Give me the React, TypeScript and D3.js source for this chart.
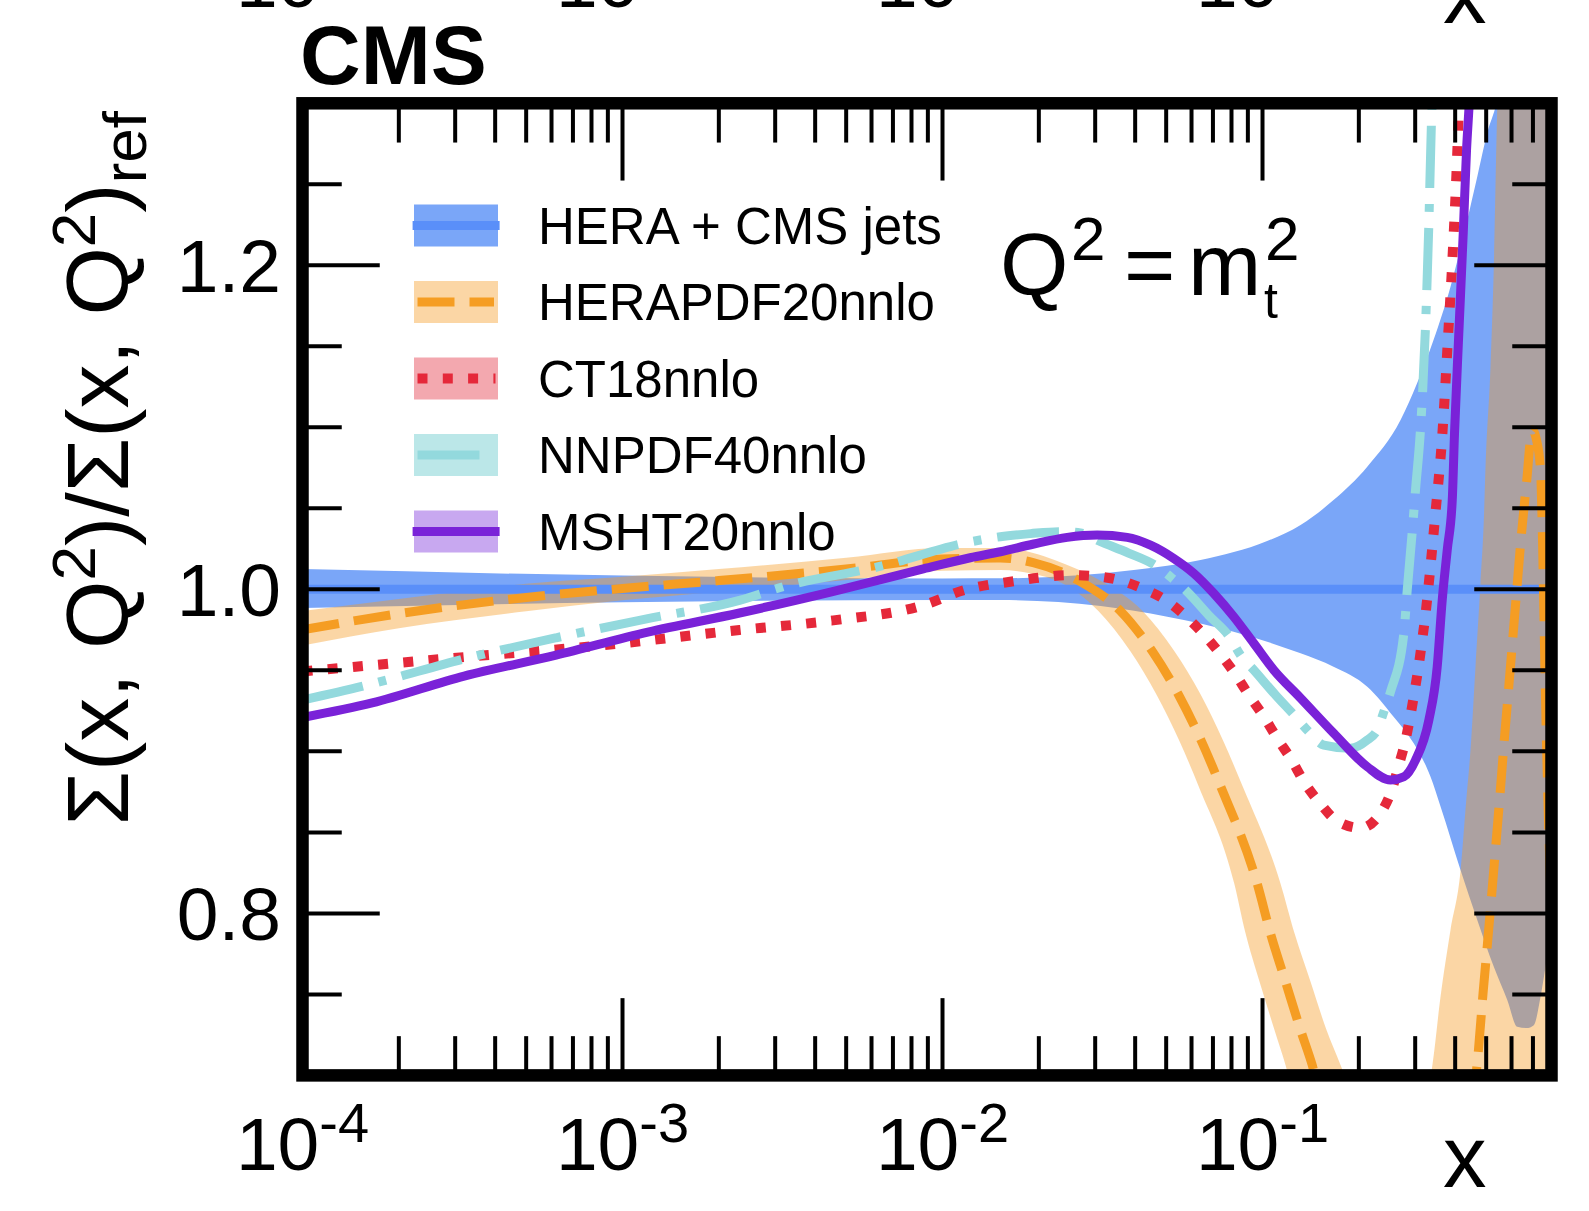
import React from 'react';
import * as d3 from 'd3';

type P = [number, number];

// ---------------- data (x, ratio) ----------------
const heraCmsCentral: P[] = [[1e-4, 1.0], [0.8, 1.0]];
const heraCmsUpper: P[] = [
  [1e-4, 1.0125], [1e-3, 1.0085], [0.01, 1.0067], [0.0152, 1.0068], [0.0396, 1.0119],
  [0.064, 1.0181], [0.1034, 1.0298], [0.1315, 1.0397], [0.1667, 1.0551], [0.2125, 1.0757],
  [0.27, 1.1045], [0.3043, 1.1273], [0.3423, 1.1539], [0.3868, 1.1868], [0.4363, 1.228],
  [0.4689, 1.2547], [0.5037, 1.2817], [0.5413, 1.302], [0.6, 1.36], [0.8, 1.45],
];
const heraCmsLower: P[] = [
  [1e-4, 0.9885], [1e-3, 0.992], [0.01, 0.9934], [0.0152, 0.9934], [0.0312, 0.9897],
  [0.0504, 0.9831], [0.0812, 0.9738], [0.1315, 0.9605], [0.1667, 0.9522], [0.2125, 0.9399],
  [0.2568, 0.9214], [0.2965, 0.9051], [0.335, 0.8843], [0.36, 0.866], [0.4159, 0.8267],
  [0.4689, 0.7959], [0.5282, 0.767], [0.5819, 0.7465], [0.6251, 0.73], [0.6683, 0.7292],
  [0.7043, 0.731], [0.7394, 0.7485], [0.7664, 0.767], [0.8, 0.79],
];

const herapdfCentral: P[] = [
  [1e-4, 0.975], [2e-4, 0.985], [5e-4, 0.995], [1e-3, 1.0005], [2e-3, 1.0054], [5e-3, 1.0125],
  [0.01, 1.0187], [0.0152, 1.0193], [0.0192, 1.0165], [0.0268, 1.0051], [0.036, 0.9866],
  [0.0452, 0.9619], [0.0547, 0.9348], [0.0644, 0.9064], [0.0739, 0.8786], [0.0962, 0.8185],
  [0.1059, 0.7877], [0.118, 0.7578], [0.1315, 0.728], [0.143, 0.7064], [0.1518, 0.688],
  [0.455, 0.688], [0.469, 0.708], [0.4888, 0.7506], [0.5047, 0.7815], [0.5206, 0.8123],
  [0.5366, 0.8432], [0.5527, 0.8741], [0.5696, 0.907], [0.5871, 0.9378], [0.6055, 0.9698],
  [0.6242, 1.0016], [0.6434, 1.0325], [0.6683, 1.0656], [0.6965, 1.0983], [0.7181, 1.0922],
  [0.7394, 1.0736], [0.7499, 1.0304], [0.758, 0.981], [0.7664, 0.932], [0.8, 0.8],
];
const herapdfUpper: P[] = [
  [1e-4, 0.9866], [2e-4, 0.994], [5e-4, 1.0035], [1e-3, 1.0078], [2e-3, 1.0125], [5e-3, 1.0195],
  [0.01, 1.0255], [0.0152, 1.0255], [0.0192, 1.0225], [0.0225, 1.018], [0.0313, 1.0051],
  [0.0422, 0.9866], [0.053, 0.9619], [0.0642, 0.9348], [0.0754, 0.9064], [0.0866, 0.8786],
  [0.1138, 0.8185], [0.1259, 0.7877], [0.1413, 0.7578], [0.1585, 0.728], [0.1753, 0.7064],
  [0.188, 0.691], [0.25, 0.62], [0.339, 0.7053], [0.36, 0.7485], [0.3868, 0.7897],
  [0.4159, 0.8267], [0.4332, 0.8699], [0.4467, 0.9008], [0.463, 0.9522], [0.48, 1.0039],
  [0.4916, 1.0428], [0.4976, 1.0757], [0.5158, 1.1374], [0.5282, 1.1991], [0.5413, 1.2959],
  [0.56, 1.36], [0.8, 1.4],
];
const herapdfLower: P[] = [
  [1e-4, 0.9654], [2e-4, 0.976], [5e-4, 0.9865], [1e-3, 0.9932], [2e-3, 0.9985], [5e-3, 1.0057],
  [0.01, 1.0115], [0.0152, 1.0119], [0.0192, 1.0095], [0.0229, 1.0051], [0.0307, 0.9866],
  [0.0386, 0.9619], [0.0467, 0.9348], [0.055, 0.9064], [0.0631, 0.8786], [0.0816, 0.8185],
  [0.0885, 0.7877], [0.0979, 0.7578], [0.109, 0.728], [0.118, 0.7064], [0.124, 0.691],
  [0.3, 0.55], [0.8, 0.55],
];

const ct18Central: P[] = [
  [1e-4, 0.9493], [3.2e-4, 0.9582], [8.62e-4, 0.9654], [2.32e-3, 0.9749], [4.5e-3, 0.9807],
  [8.71e-3, 0.9902], [0.01172, 0.9996], [0.01712, 1.0053], [0.02049, 1.0074], [0.02453, 1.0088],
  [0.02971, 1.0082], [0.03556, 1.0057], [0.04208, 1.0006], [0.04977, 0.9934], [0.05745, 0.9835],
  [0.06554, 0.9722], [0.07391, 0.9599], [0.08232, 0.9475], [0.0906, 0.9348], [0.101, 0.9214],
  [0.1112, 0.908], [0.1229, 0.8951], [0.1353, 0.8807], [0.1507, 0.8684], [0.171, 0.857],
  [0.2025, 0.8527], [0.2338, 0.8619], [0.253, 0.8758], [0.2667, 0.8915], [0.2799, 0.907],
  [0.2901, 0.9224], [0.2992, 0.9378], [0.3079, 0.9533], [0.3155, 0.9687], [0.3231, 0.9846],
  [0.3295, 1.0002], [0.3472, 1.0474], [0.3644, 1.0946], [0.3804, 1.1574], [0.3924, 1.2049],
  [0.4058, 1.2681], [0.412, 1.305],
];

const nnpdfCentral: P[] = [
  [1e-4, 0.9317], [1.65e-4, 0.9417], [3.2e-4, 0.9571], [6.2e-4, 0.9701], [1.2e-3, 0.9819],
  [2.32e-3, 0.9932], [3.23e-3, 1.002], [6.27e-3, 1.0138], [0.01215, 1.0292], [0.01517, 1.0325],
  [0.01884, 1.0344], [0.02337, 1.0356], [0.02699, 1.0348], [0.03118, 1.0294], [0.03814, 1.0224],
  [0.04689, 1.014], [0.05224, 1.0068], [0.05818, 0.9985], [0.06782, 0.9841], [0.07943, 0.9698],
  [0.08537, 0.9594], [0.09393, 0.9502], [0.1098, 0.9348], [0.1268, 0.9214], [0.138, 0.9131],
  [0.1555, 0.9039], [0.1884, 0.9019], [0.2125, 0.907], [0.2283, 0.9132], [0.2394, 0.9244],
  [0.2512, 0.9368], [0.2765, 0.9728], [0.2833, 0.9996], [0.2937, 1.0356], [0.3007, 1.0613],
  [0.3118, 1.0994], [0.3231, 1.1621], [0.3309, 1.2249], [0.3373, 1.2886], [0.3398, 1.3051],
];

const mshtCentral: P[] = [
  [1e-4, 0.9209], [1.65e-4, 0.9299], [3.2e-4, 0.9465], [6.2e-4, 0.9594], [1.2e-3, 0.9736],
  [2.32e-3, 0.9854], [4.5e-3, 0.9985], [8.71e-3, 1.0126], [0.0122, 1.0195], [0.01517, 1.0232],
  [0.01929, 1.028], [0.02453, 1.0321], [0.03044, 1.0335], [0.03777, 1.0321], [0.04467, 1.0273],
  [0.05282, 1.0191], [0.061, 1.0099], [0.07043, 0.9975], [0.08133, 0.9831], [0.09393, 0.9667],
  [0.1085, 0.9502], [0.1315, 0.9329], [0.1671, 0.9111], [0.2125, 0.8905], [0.2512, 0.8823],
  [0.2765, 0.8843], [0.3007, 0.8946], [0.331, 0.9193], [0.3515, 0.9522], [0.3644, 0.9934],
  [0.3778, 1.0243], [0.3917, 1.0551], [0.3981, 1.0963], [0.4106, 1.158], [0.4239, 1.2198],
  [0.4341, 1.2712], [0.4414, 1.2959], [0.4467, 1.3145],
];

const legendLabels = ['HERA + CMS jets', 'HERAPDF20nnlo', 'CT18nnlo', 'NNPDF40nnlo', 'MSHT20nnlo'];
const xLabelValues = [1e-4, 1e-3, 1e-2, 1e-1];
const xLabelExps = ['-4', '-3', '-2', '-1'];
const yLabelValues = [0.8, 1.0, 1.2];
const yLabels = ['0.8', '1.0', '1.2'];

// ---------------- styles ----------------
const FONT = "'Liberation Sans', Arial, Helvetica, sans-serif";
const BLUE_BAND = '#7aa6f8';
const BLUE_LINE = '#5a8ff9';
const ORANGE = '#f59d23';
const ORANGE_BAND = 'rgb(245,155,36)';
const RED = '#e5283a';
const CYAN = '#93d9dd';
const PURPLE = '#7a22d8';

const W = 1589;
const H = 1211;
const XL = 302.5, XR = 1551.5, YB = 1075.4, YT = 103.3;
const FRAME_W = 12.5;

const x = d3.scaleLog().domain([1e-4, 0.8]).range([XL, XR]);
const y = d3.scaleLinear().domain([0.7, 1.3]).range([YB, YT]);

const line = d3.line<P>().x(d => x(d[0])).y(d => y(d[1])).curve(d3.curveMonotoneX);
function bandPath(upper: P[], lower: P[]): string {
  const a = line(upper) as string;
  const b = line([...lower].reverse()) as string;
  return a + 'L' + b.slice(1) + 'Z';
}

export default function App() {
  const half = FRAME_W / 2;
  const xTicks: { v: number; major: boolean }[] = [];
  for (let k = -4; k <= -1; k++) {
    for (let m = 1; m <= 9; m++) {
      const v = m * Math.pow(10, k);
      if (v > 1e-4 * 1.0001 && v < 0.8 * 0.999) xTicks.push({ v, major: m === 1 });
    }
  }
  const yTicks: { v: number; major: boolean }[] = [];
  for (let i = 15; i <= 25; i++) {
    const v = i * 0.05;
    yTicks.push({ v, major: i % 4 === 0 });
  }

  const legendRows = [
    { fill: BLUE_BAND, stroke: BLUE_LINE, dash: undefined, x1: 412.6, x2: 499.6, w: 9 },
    { fill: '#fbd6a5', stroke: ORANGE, dash: '37 15', x1: 417.5, x2: 494, w: 9 },
    { fill: '#f3a8af', stroke: RED, dash: '10 15.3', x1: 417.5, x2: 495.5, w: 10 },
    { fill: '#bbe7e8', stroke: CYAN, dash: '62 16 8 16', x1: 417.5, x2: 495, w: 9 },
    { fill: '#c8a8f0', stroke: PURPLE, dash: undefined, x1: 412.6, x2: 499.6, w: 9 },
  ];
  const rowC = [225.5, 302, 378.5, 455, 531.5];

  const xLabel = (baseline: number, key: string) =>
    xLabelValues.map((v, i) => (
      <text key={key + i} x={x(v)} y={baseline} textAnchor="middle" fontSize={75} fontFamily={FONT}>
        10<tspan dy={-28} fontSize={56}>{xLabelExps[i]}</tspan>
      </text>
    ));

  return (
    <svg width={W} height={H} viewBox={`0 0 ${W} ${H}`}
      style={{ position: 'absolute', left: 0, top: 0, display: 'block', background: '#fff' }}>
      <defs>
        <clipPath id="plotClip">
          <rect x={XL} y={YT} width={XR - XL} height={YB - YT} />
        </clipPath>
      </defs>
      <rect x={0} y={0} width={W} height={H} fill="#fff" />

      {/* cut-off copy of axis labels at very top, as in the reference */}
      {xLabel(7, 'top')}
      <text x={1443} y={23} fontSize={87} fontFamily={FONT}>x</text>

      <g clipPath="url(#plotClip)">
        <path d={bandPath(heraCmsUpper, heraCmsLower)} fill={BLUE_BAND} />
        <path d={bandPath(herapdfUpper, herapdfLower)} fill={ORANGE_BAND} fillOpacity={0.41} />
        <path d={line(heraCmsCentral) as string} fill="none" stroke={BLUE_LINE} strokeWidth={9} />
        <path d={line(herapdfCentral) as string} fill="none" stroke={ORANGE} strokeWidth={9} strokeDasharray="37 15" />
        <path d={line(ct18Central) as string} fill="none" stroke={RED} strokeWidth={10} strokeDasharray="10 15.3" />
        <path d={line(nnpdfCentral) as string} fill="none" stroke={CYAN} strokeWidth={9} strokeDasharray="62 16 8 16" />
        <path d={line(mshtCentral) as string} fill="none" stroke={PURPLE} strokeWidth={9} />
      </g>

      {/* ticks */}
      <g stroke="#000" strokeWidth={4}>
        {xTicks.map((t, i) => {
          const px = x(t.v);
          const len = t.major ? 71 : 33;
          return (
            <g key={'xt' + i}>
              <line x1={px} x2={px} y1={YB} y2={YB - half - len} />
              <line x1={px} x2={px} y1={YT} y2={YT + half + len} />
            </g>
          );
        })}
        {yTicks.map((t, i) => {
          const py = y(t.v);
          const len = t.major ? 71 : 33;
          return (
            <g key={'yt' + i}>
              <line x1={XL} x2={XL + half + len} y1={py} y2={py} />
              <line x1={XR} x2={XR - half - len} y1={py} y2={py} />
            </g>
          );
        })}
      </g>

      {/* frame */}
      <rect x={XL} y={YT} width={XR - XL} height={YB - YT} fill="none" stroke="#000" strokeWidth={FRAME_W} />

      {/* y tick labels */}
      {yLabelValues.map((v, i) => (
        <text key={'yl' + i} x={281} y={y(v) + 27} textAnchor="end" fontSize={75} fontFamily={FONT}>{yLabels[i]}</text>
      ))}
      {/* x tick labels */}
      {xLabel(1170, 'bot')}
      <text x={1443} y={1187} fontSize={87} fontFamily={FONT}>x</text>

      {/* y title */}
      <text transform="translate(128,111) rotate(-90)" textAnchor="end" fontSize={88} fontFamily={FONT}>
        Σ(x, Q<tspan dy={-33} fontSize={62}>2</tspan><tspan dy={33}>)/Σ(x, Q</tspan><tspan dy={-33} fontSize={62}>2</tspan><tspan dy={33}>)</tspan><tspan dy={18} fontSize={62}>ref</tspan>
      </text>

      {/* CMS */}
      <text x={300} y={84} fontSize={84} fontWeight="bold" fontFamily={FONT}>CMS</text>

      {/* Q^2 = m_t^2 */}
      <g fontFamily={FONT}>
        <text x={1000} y={295} fontSize={88}>Q</text>
        <text x={1071} y={260} fontSize={62}>2</text>
        <text x={1124} y={295} fontSize={88}>=</text>
        <text x={1188} y={295} fontSize={88}>m</text>
        <text x={1265} y={260} fontSize={62}>2</text>
        <text x={1264} y={318} fontSize={50}>t</text>
      </g>

      {/* legend */}
      {legendRows.map((r, i) => (
        <g key={'lg' + i}>
          <rect x={414} y={rowC[i] - 21} width={84} height={42} fill={r.fill} />
          <line x1={r.x1} x2={r.x2} y1={rowC[i]} y2={rowC[i]} stroke={r.stroke} strokeWidth={r.w} strokeDasharray={r.dash} />
          <text x={538} y={rowC[i] + 18} fontSize={51} fontFamily={FONT}>{legendLabels[i]}</text>
        </g>
      ))}
    </svg>
  );
}
